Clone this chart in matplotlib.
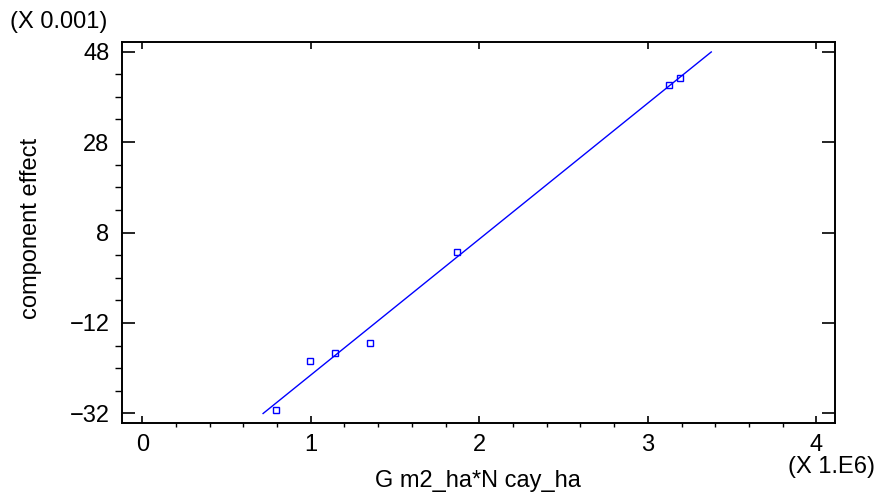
import numpy as np
import matplotlib
matplotlib.use("Agg")
import matplotlib.pyplot as plt
from matplotlib.ticker import MultipleLocator, FixedLocator

plt.rcParams['font.family'] = ['Liberation Sans', 'DejaVu Sans']

# data (x in units of 1E6, y in units of 0.001)
x_pts = [0.791, 0.993, 1.143, 1.351, 1.869, 3.128, 3.190]
y_pts = [-31.3, -20.4, -18.6, -16.4, 3.7, 40.7, 42.2]
line_x = [0.717, 3.376]
line_y = [-32.0, 47.9]
xticks = [0, 1, 2, 3, 4]
yticks = [-32, -12, 8, 28, 48]

W, H = 882, 493
fig = plt.figure(figsize=(W / 100, H / 100), dpi=100)
ax = fig.add_axes([122 / W, (H - 423) / H, (835 - 122) / W, (423 - 42) / H])

ax.plot(line_x, line_y, '-', color='#0000ff', lw=1)
ax.plot(x_pts, y_pts, 's', mfc='none', mec='#0000ff', mew=1, ms=4)

ax.set_xlim(-0.12, 4.11)
ax.set_ylim(-34.1, 50.1)
ax.set_xticks(xticks)
ax.set_yticks(yticks)
ax.xaxis.set_minor_locator(MultipleLocator(0.2))
ax.yaxis.set_minor_locator(FixedLocator(np.arange(-32, 49, 5)))

ax.tick_params(direction='in', top=True, right=True, labelsize=17, colors='black')
ax.tick_params(axis='x', which='major', length=5, width=1.2, pad=8)
ax.tick_params(axis='x', which='minor', length=3, width=1)
ax.tick_params(axis='y', which='major', length=9.5, width=1.2, pad=9)
ax.tick_params(axis='y', which='minor', length=5, width=1)
for s in ax.spines.values():
    s.set_linewidth(1.4)

fig.text(10 / W, 1 - 22 / H, '(X 0.001)', fontsize=17, ha='left', va='center')
fig.text(875 / W, 1 - 467 / H, '(X 1.E6)', fontsize=17, ha='right', va='center')
fig.text(478 / W, 1 - 487 / H, 'G m2_ha*N cay_ha', fontsize=17, ha='center', va='baseline')
fig.text(31 / W, 1 - 228 / H, 'component effect', fontsize=17, rotation=90,
         ha='center', va='center')

fig.savefig('out.png', dpi=100)
